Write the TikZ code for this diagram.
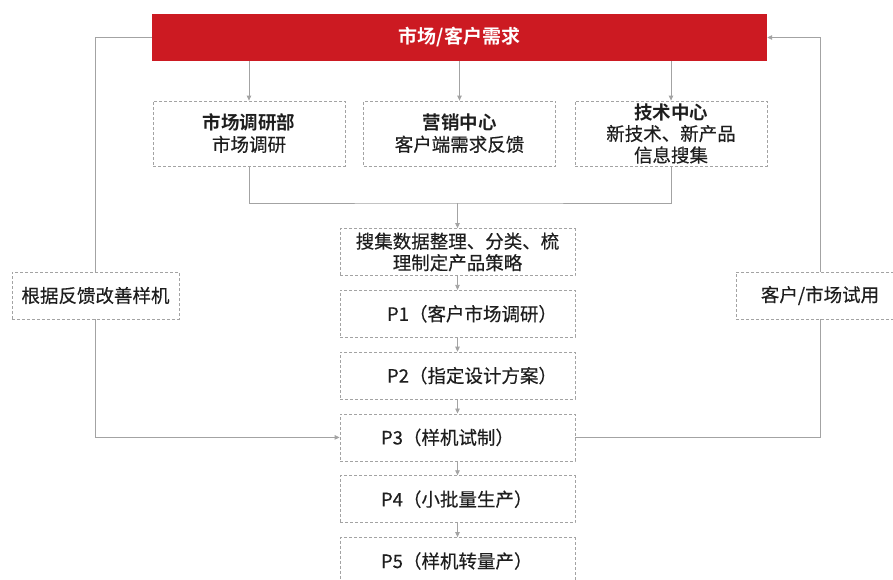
\documentclass[tikz,border=0pt]{standalone}
\usepackage{fontspec}
\setmainfont{Noto Sans CJK SC}[BoldFont={Noto Sans CJK SC Bold}, UprightFeatures={FakeBold=0.3}]
\usetikzlibrary{arrows.meta,positioning}
\definecolor{barred}{HTML}{CC1A22}
\definecolor{linegray}{HTML}{A3A3A3}
\definecolor{txt}{HTML}{1E1E1E}
\tikzset{node distance=14pt, auto,
  dashbox/.style={draw=linegray, dash pattern=on 3pt off 2pt, line width=0.8pt,
    align=center, inner sep=0pt, text=txt, font=\fontsize{18.5}{21.5}\selectfont},
  deptbox/.style={dashbox, minimum width=192pt, minimum height=65pt},
  stepbox/.style={dashbox, minimum width=235pt, minimum height=47pt},
  pbox/.style={stepbox, text width=235pt, align=left},
  sidebox/.style={dashbox, minimum width=167pt, minimum height=47pt},
  link/.style={draw=linegray, line width=0.8pt},
  arr/.style={link, -{Triangle[length=5pt,width=4.5pt]}}
}
\begin{document}
\begin{tikzpicture}[x=1pt, y=-1pt]
\clip (0,0) rectangle (893,579);
\fill[white] (0,0) rectangle (893,579);
\node[fill=barred, minimum width=615pt, minimum height=47pt, inner sep=0pt,
  text=white, font=\fontsize{19}{22}\selectfont\bfseries] (need) at (459.5,37.5) {市场/客户需求};
\node[deptbox] (dept1) at (249,133.5) {\textbf{市场调研部}\\市场调研};
\node[deptbox] (dept2) at (459.5,133.5) {\textbf{营销中心}\\客户端需求反馈};
\node[deptbox] (dept3) at (671,133.5) {\textbf{技术中心}\\新技术、新产品\\信息搜集};
\node[stepbox] (collect) at (457.5,252) {搜集数据整理、分类、梳\\理制定产品策略};
\node[pbox, below=of collect] (p1) {\hspace*{47pt}P1（客户市场调研）};
\node[pbox, below=of p1] (p2) {\hspace*{47pt}P2（指定设计方案）};
\node[pbox, below=of p2] (p3) {\hspace*{41pt}P3（样机试制）};
\node[pbox, below=of p3] (p4) {\hspace*{41pt}P4（小批量生产）};
\node[pbox, below=of p4] (p5) {\hspace*{41pt}P5（样机转量产）};
\node[sidebox] (improve) at (95.5,295.5) {根据反馈改善样机};
\node[sidebox, minimum width=168pt] (trial) at (820,295.5) {客户/市场试用};
\coordinate (join) at (457.5,203);
\foreach \d in {dept1,dept2,dept3}
  \draw[arr] (need.south -| \d) -- (\d);
\draw[link] (dept1.south) |- (join) -| (dept3.south);
\draw[arr] (join) -- (collect);
\draw[arr] (collect) -- (p1);
\draw[arr] (p1) -- (p2);
\draw[arr] (p2) -- (p3);
\draw[arr] (p3) -- (p4);
\draw[arr] (p4) -- (p5);
\draw[link] (p3.east) -| (trial.south);
\draw[arr] (trial.north) |- (need.east);
\draw[link] (need.west) -| (improve.north);
\draw[arr] (improve.south) |- (p3.west);
\end{tikzpicture}
\end{document}
